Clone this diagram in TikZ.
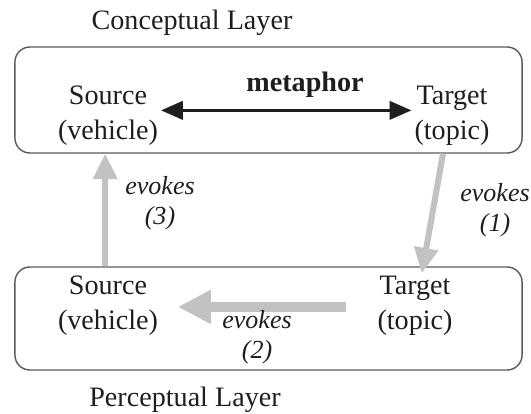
\documentclass[tikz,border=0pt]{standalone}
\usepackage{fontspec}
\setmainfont{Liberation Serif}
\usetikzlibrary{arrows.meta}
\definecolor{evk}{HTML}{C2C2C2}
\definecolor{ink}{HTML}{1E1E1E}
\definecolor{frame}{HTML}{5A5A5A}

\begin{document}
\begin{tikzpicture}[x=0.025cm,y=-0.025cm,
   txt/.style={text=ink,font=\fontsize{20}{25}\selectfont,align=center,inner sep=2pt},
   lbl/.style={text=ink,font=\fontsize{18.5}{21.5}\selectfont\itshape,align=center,inner sep=1pt},
   layer/.style={draw=frame,line width=1pt,rounded corners=0.375cm,minimum width=12.675cm},
   evoke/.style={evk,line width=4.3pt,-{Triangle[length=18pt,width=16.5pt]}}]
   \useasboundingbox (0,0) rectangle (531,413);
   % the two layers
   \node[layer,minimum height=2.65cm] (concept) at (268.5,100) {};
   \node[layer,minimum height=2.575cm] (percept) at (268.5,318.5) {};
   \node[txt] (ctitle) at (192,23) {Conceptual Layer};
   \node[txt] (ptitle) at (185,400) {Perceptual Layer};
   % source and target
   \node[txt] (src-c) at (108,116) {Source\\(vehicle)};
   \node[txt] (tgt-c) at (452,116) {Target\\(topic)};
   \node[txt] (src-p) at (108,305.5) {Source\\(vehicle)};
   \node[txt] (tgt-p) at (415,305.5) {Target\\(topic)};
   \node[txt,font=\fontsize{20}{25}\selectfont\bfseries] (meta) at (305,85) {metaphor};
   \draw[ink,line width=2.1pt,{Triangle[length=15.5pt,width=13pt]}-{Triangle[length=15.5pt,width=13pt]}]
      ([yshift=4pt]src-c.east) -- ([yshift=4pt]tgt-c.west);
   % evokes arrows
   \draw[evoke,shorten >=-5pt] ([xshift=-6.4pt]tgt-c.south |- concept.south) -- ([xshift=5.7pt]tgt-p.north |- percept.north);
   \draw[evoke,line width=7.1pt,-{Triangle[length=23.5pt,width=22.8pt]},shorten <=20pt,shorten >=12pt]
      ([yshift=-1pt]tgt-p.west) -- ([yshift=-1pt]src-p.east);
   \draw[evoke] ([xshift=-2pt]src-p.north |- percept.north) -- ([xshift=-2pt]src-p.north |- concept.south);
   \node[lbl] (ev1) at (495,210) {evokes\\(1)};
   \node[lbl] (ev2) at (257,337) {evokes\\(2)};
   \node[lbl] (ev3) at (160,203) {evokes\\(3)};
\end{tikzpicture}
\end{document}
